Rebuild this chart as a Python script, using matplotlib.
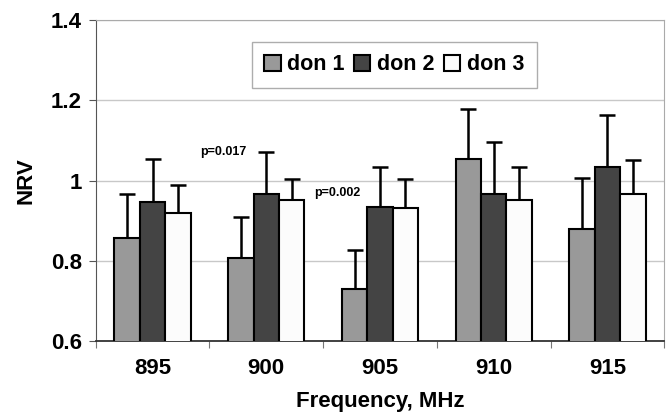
import matplotlib.pyplot as plt
import numpy as np

plt.rcParams['font.family'] = ['Liberation Sans', 'DejaVu Sans']
plt.rcParams['font.weight'] = 'bold'

# Data
freqs = ["895", "900", "905", "910", "915"]
series = ["don 1", "don 2", "don 3"]
don1 = [0.858, 0.807, 0.730, 1.055, 0.879]
don2 = [0.946, 0.967, 0.935, 0.967, 1.035]
don3 = [0.920, 0.951, 0.931, 0.951, 0.967]
don1_err = [0.108, 0.103, 0.097, 0.124, 0.128]
don2_err = [0.108, 0.104, 0.099, 0.130, 0.129]
don3_err = [0.068, 0.052, 0.072, 0.083, 0.084]
colors = ["#999999", "#444444", "#fcfcfc"]

values = [don1, don2, don3]
errors = [don1_err, don2_err, don3_err]

fig = plt.figure(figsize=(6.69, 4.12), dpi=100)
ax = fig.add_axes([0.143, 0.172, 0.850, 0.779])

x = np.arange(len(freqs))
width = 0.224
for i, (vals, errs, col, name) in enumerate(zip(values, errors, colors, series)):
    pos = x + (i - 1) * width
    ax.bar(pos, vals, width, bottom=0, color=col, edgecolor="black",
           linewidth=1.5, label=name, zorder=3)
    ax.errorbar(pos, vals, yerr=[np.zeros(len(errs)), errs], fmt="none",
                ecolor="black", elinewidth=1.8, capsize=5.5, capthick=1.8,
                zorder=2)

ax.set_ylim(0.6, 1.4)
ax.set_xlim(-0.5, len(freqs) - 0.5)
ax.set_yticks([0.6, 0.8, 1.0, 1.2, 1.4])
ax.set_yticklabels(["0.6", "0.8", "1", "1.2", "1.4"])
ax.grid(axis="y", color="#c8c8c8", linewidth=1.0, zorder=0)

# x ticks between categories, labels at category centres
ax.set_xticks(np.arange(-0.5, len(freqs)), minor=False)
ax.set_xticklabels([])
ax.set_xticks(x, minor=True)
ax.set_xticklabels(freqs, minor=True)
ax.tick_params(axis="x", which="major", length=5, color="#777777")
ax.tick_params(axis="x", which="minor", length=0, pad=12, labelsize=16)
ax.tick_params(axis="y", length=5, color="#555555", labelsize=16, pad=5)

for side in ["top", "right"]:
    ax.spines[side].set_color("#aaaaaa")
ax.spines["left"].set_color("#555555")
ax.spines["bottom"].set_color("#333333")
ax.spines["bottom"].set_linewidth(1.3)

ax.set_xlabel("Frequency, MHz", fontsize=16, fontweight="bold", labelpad=9)
ax.set_ylabel("NRV", fontsize=16, fontweight="bold", labelpad=10)

ax.text(0.415, 1.071, "p=0.017", fontsize=9, fontweight="bold", va="center")
ax.text(1.424, 0.969, "p=0.002", fontsize=9, fontweight="bold", va="center")

leg = ax.legend(loc="upper center", bbox_to_anchor=(0.525, 0.967), ncol=3,
                fontsize=15.5, frameon=True, fancybox=False, handlelength=0.75,
                handleheight=0.75, handletextpad=0.3, columnspacing=0.45,
                borderpad=0.6)
leg.get_frame().set_edgecolor("#999999")
leg.get_frame().set_linewidth(1.0)
for t in leg.get_texts():
    t.set_fontweight("bold")

fig.savefig("out.png", dpi=100)
